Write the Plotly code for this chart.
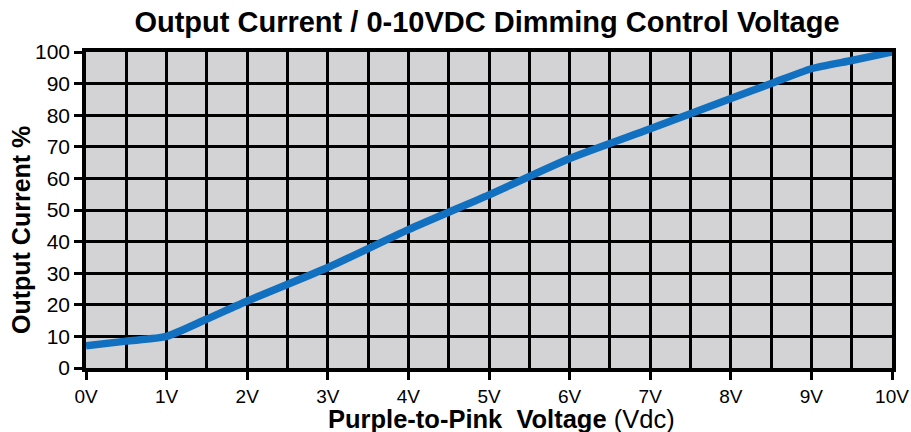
import plotly.graph_objects as go

voltage = [0, 0.5, 1, 1.5, 2, 3, 4, 5, 6, 7, 8, 8.5, 9, 9.5, 10]
current = [7, 8.5, 10, 15.5, 21.2, 31.8, 43.8, 54.8, 66.3, 75.7, 85.3, 90, 94.7, 97.3, 100]
x_tickvals = [0, 1, 2, 3, 4, 5, 6, 7, 8, 9, 10]
x_ticktext = ["0V", "1V", "2V", "3V", "4V", "5V", "6V", "7V", "8V", "9V", "10V"]
y_tickvals = [0, 10, 20, 30, 40, 50, 60, 70, 80, 90, 100]

W, H = 911, 432
pl, pr, pt, pb = 86, 892, 52, 368


def px(x):
    return (x - pl) / (pr - pl)


def py(y):
    return (pb - y) / (pb - pt)


fig = go.Figure()
fig.add_trace(go.Scatter(
    x=voltage, y=current, mode="lines",
    line=dict(color="#1170c0", width=7.5, shape="spline", smoothing=0.6),
    cliponaxis=False, showlegend=False, hoverinfo="skip"))

font = "Liberation Sans, Arial, sans-serif"
fig.update_layout(
    width=W, height=H,
    margin=dict(l=pl, r=W - pr, t=pt, b=H - pb, autoexpand=False),
    paper_bgcolor="white", plot_bgcolor="#d3d3d5",
    title=dict(text="<b>Output Current / 0-10VDC Dimming Control Voltage</b>",
               x=487 / W, xref="container", xanchor="center",
               y=1 - 22 / H, yref="container", yanchor="middle",
               font=dict(family=font, size=29, color="black")),
    xaxis=dict(range=[0, 10], tickvals=x_tickvals, ticktext=x_ticktext,
               showgrid=True, gridcolor="black", gridwidth=2.5,
               minor=dict(dtick=0.5, showgrid=True, gridcolor="black", gridwidth=2.5),
               showline=True, linecolor="black", linewidth=3.5, mirror=True,
               ticks="outside", ticklen=8, tickwidth=2.5, tickcolor="black",
               tickfont=dict(family=font, size=19, color="black"),
               zeroline=False, automargin=False),
    yaxis=dict(range=[0, 100], tickvals=y_tickvals,
               showgrid=True, gridcolor="black", gridwidth=2.5,
               showline=True, linecolor="black", linewidth=3.5, mirror=True,
               ticks="outside", ticklen=8, tickwidth=2.5, tickcolor="black",
               tickfont=dict(family=font, size=21, color="black"),
               zeroline=False, automargin=False),
)
fig.add_annotation(text="<b>Purple-to-Pink  Voltage</b> (Vdc)", xref="paper", yref="paper",
                   x=px(501), y=py(419), xanchor="center", yanchor="middle", showarrow=False,
                   font=dict(family=font, size=25.5, color="black"))
fig.add_annotation(text="<b>Output Current %</b>", xref="paper", yref="paper",
                   x=px(21), y=py(230), xanchor="center", yanchor="middle", showarrow=False,
                   textangle=-90, font=dict(family=font, size=25, color="black"))
fig.write_html("out.html", config={"displayModeBar": False},
               post_script="document.body.style.margin='0';document.body.style.overflow='hidden';")
